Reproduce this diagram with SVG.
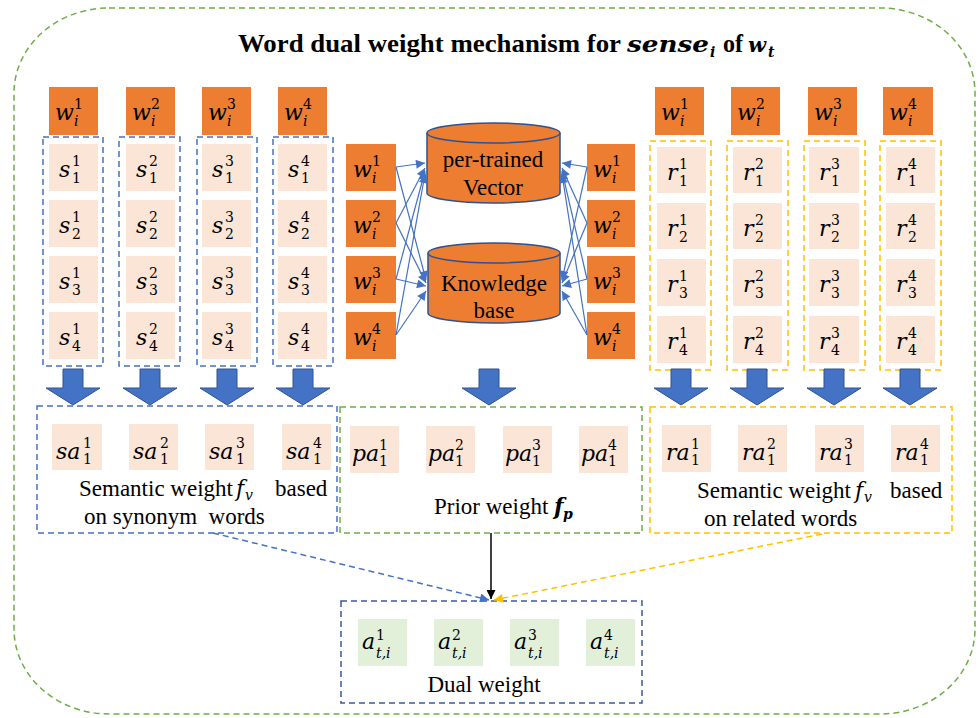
<svg xmlns="http://www.w3.org/2000/svg" xmlns:xlink="http://www.w3.org/1999/xlink" width="978" height="718" viewBox="0 0 978 718">
<style>
.or{fill:#ED7D31}
.pk{fill:#FBE5D6}
.gr{fill:#E2F0D9}
.m{font-family:"DejaVu Serif",serif;font-style:italic;font-size:22px;fill:#000}
.n{font-family:"DejaVu Serif",serif;font-size:14px;fill:#000}
.ni{font-family:"DejaVu Serif",serif;font-style:italic;font-size:14px;fill:#000}
.t{font-family:"Liberation Serif","Times New Roman",serif;font-size:23px;fill:#000}
.bd{fill:none;stroke:#4472C4;stroke-width:1.5;stroke-dasharray:6 4}
.yd{fill:none;stroke:#FFC000;stroke-width:1.5;stroke-dasharray:6 4}
.gd{fill:none;stroke:#70AD47;stroke-width:1.5;stroke-dasharray:6 4}
.dd{fill:none;stroke:#3C5A99;stroke-width:1.5;stroke-dasharray:6 4}
.cyl{fill:#ED7D31;stroke:#2F528F;stroke-width:1.5}
.ln{stroke:#4472C4;stroke-width:1.2;fill:none;marker-end:url(#ab)}
.ba{fill:#4472C4;stroke:#2F528F;stroke-width:1}
</style>
<defs>
<marker id="ab" viewBox="0 0 10 10" refX="10" refY="5" markerWidth="10" markerHeight="9" markerUnits="userSpaceOnUse" orient="auto"><path d="M0,0 L10,5 L0,10 z" fill="#4472C4"/></marker>
<marker id="ay" viewBox="0 0 10 10" refX="10" refY="5" markerWidth="10" markerHeight="9" markerUnits="userSpaceOnUse" orient="auto"><path d="M0,0 L10,5 L0,10 z" fill="#FFC000"/></marker>
<marker id="ak" viewBox="0 0 10 10" refX="10" refY="5" markerWidth="10" markerHeight="9" markerUnits="userSpaceOnUse" orient="auto"><path d="M0,0 L10,5 L0,10 z" fill="#000"/></marker>
<path id="barrow" class="ba" d="M-10,369 H10 V388 H27 L0,405 L-27,388 H-10 Z"/>
</defs>

<rect x="14" y="8" width="961" height="706" rx="95" ry="85" class="gd" stroke-width="1.3"/>

<g id="title">
<text x="238" y="52" font-family="Liberation Serif,serif" font-weight="bold" font-size="26" textLength="383" lengthAdjust="spacingAndGlyphs">Word dual weight mechanism for</text>
<text x="627" y="52" font-family="DejaVu Serif,serif" font-weight="bold" font-style="italic" font-size="22" textLength="82" lengthAdjust="spacingAndGlyphs">sense</text>
<text x="710" y="57" font-family="DejaVu Serif,serif" font-weight="bold" font-style="italic" font-size="14">i</text>
<text x="723" y="52" font-family="Liberation Serif,serif" font-weight="bold" font-size="26" textLength="20" lengthAdjust="spacingAndGlyphs">of</text>
<text x="748" y="52" font-family="DejaVu Serif,serif" font-weight="bold" font-style="italic" font-size="21">w</text>
<text x="768" y="57" font-family="DejaVu Serif,serif" font-weight="bold" font-style="italic" font-size="14">t</text>
</g>

<!-- left top w -->
<g id="lw1" transform="translate(49,87)"><rect class="or" width="49" height="48"/><text class="m" x="6" y="33">w</text><text class="n" x="25" y="22">1</text><text class="ni" x="25" y="39">i</text></g>
<g id="lw2" transform="translate(126,87)"><rect class="or" width="49" height="48"/><text class="m" x="6" y="33">w</text><text class="n" x="25" y="22">2</text><text class="ni" x="25" y="39">i</text></g>
<g id="lw3" transform="translate(202,87)"><rect class="or" width="49" height="48"/><text class="m" x="6" y="33">w</text><text class="n" x="25" y="22">3</text><text class="ni" x="25" y="39">i</text></g>
<g id="lw4" transform="translate(278,87)"><rect class="or" width="49" height="48"/><text class="m" x="6" y="33">w</text><text class="n" x="25" y="22">4</text><text class="ni" x="25" y="39">i</text></g>

<!-- left columns -->
<g id="scol1">
<rect class="bd" x="43" y="137" width="60" height="229"/>
<g transform="translate(49,144)"><rect class="pk" width="49" height="47"/><text class="m" x="10" y="33">s</text><text class="n" x="23" y="22">1</text><text class="n" x="23" y="39">1</text></g>
<g transform="translate(49,200)"><rect class="pk" width="49" height="47"/><text class="m" x="10" y="33">s</text><text class="n" x="23" y="22">1</text><text class="n" x="23" y="39">2</text></g>
<g transform="translate(49,256)"><rect class="pk" width="49" height="47"/><text class="m" x="10" y="33">s</text><text class="n" x="23" y="22">1</text><text class="n" x="23" y="39">3</text></g>
<g transform="translate(49,312)"><rect class="pk" width="49" height="47"/><text class="m" x="10" y="33">s</text><text class="n" x="23" y="22">1</text><text class="n" x="23" y="39">4</text></g>
</g>
<g id="scol2">
<rect class="bd" x="119" y="137" width="61" height="229"/>
<g transform="translate(126,144)"><rect class="pk" width="49" height="47"/><text class="m" x="10" y="33">s</text><text class="n" x="23" y="22">2</text><text class="n" x="23" y="39">1</text></g>
<g transform="translate(126,200)"><rect class="pk" width="49" height="47"/><text class="m" x="10" y="33">s</text><text class="n" x="23" y="22">2</text><text class="n" x="23" y="39">2</text></g>
<g transform="translate(126,256)"><rect class="pk" width="49" height="47"/><text class="m" x="10" y="33">s</text><text class="n" x="23" y="22">2</text><text class="n" x="23" y="39">3</text></g>
<g transform="translate(126,312)"><rect class="pk" width="49" height="47"/><text class="m" x="10" y="33">s</text><text class="n" x="23" y="22">2</text><text class="n" x="23" y="39">4</text></g>
</g>
<g id="scol3">
<rect class="bd" x="197" y="137" width="60" height="229"/>
<g transform="translate(202,144)"><rect class="pk" width="49" height="47"/><text class="m" x="10" y="33">s</text><text class="n" x="23" y="22">3</text><text class="n" x="23" y="39">1</text></g>
<g transform="translate(202,200)"><rect class="pk" width="49" height="47"/><text class="m" x="10" y="33">s</text><text class="n" x="23" y="22">3</text><text class="n" x="23" y="39">2</text></g>
<g transform="translate(202,256)"><rect class="pk" width="49" height="47"/><text class="m" x="10" y="33">s</text><text class="n" x="23" y="22">3</text><text class="n" x="23" y="39">3</text></g>
<g transform="translate(202,312)"><rect class="pk" width="49" height="47"/><text class="m" x="10" y="33">s</text><text class="n" x="23" y="22">3</text><text class="n" x="23" y="39">4</text></g>
</g>
<g id="scol4">
<rect class="bd" x="273" y="137" width="60" height="229"/>
<g transform="translate(278,144)"><rect class="pk" width="49" height="47"/><text class="m" x="10" y="33">s</text><text class="n" x="23" y="22">4</text><text class="n" x="23" y="39">1</text></g>
<g transform="translate(278,200)"><rect class="pk" width="49" height="47"/><text class="m" x="10" y="33">s</text><text class="n" x="23" y="22">4</text><text class="n" x="23" y="39">2</text></g>
<g transform="translate(278,256)"><rect class="pk" width="49" height="47"/><text class="m" x="10" y="33">s</text><text class="n" x="23" y="22">4</text><text class="n" x="23" y="39">3</text></g>
<g transform="translate(278,312)"><rect class="pk" width="49" height="47"/><text class="m" x="10" y="33">s</text><text class="n" x="23" y="22">4</text><text class="n" x="23" y="39">4</text></g>
</g>

<!-- middle w -->
<g id="mlw1" transform="translate(346,144)"><rect class="or" width="50" height="47"/><text class="m" x="7" y="33">w</text><text class="n" x="26" y="22">1</text><text class="ni" x="26" y="39">i</text></g>
<g id="mlw2" transform="translate(346,200)"><rect class="or" width="50" height="47"/><text class="m" x="7" y="33">w</text><text class="n" x="26" y="22">2</text><text class="ni" x="26" y="39">i</text></g>
<g id="mlw3" transform="translate(346,256)"><rect class="or" width="50" height="47"/><text class="m" x="7" y="33">w</text><text class="n" x="26" y="22">3</text><text class="ni" x="26" y="39">i</text></g>
<g id="mlw4" transform="translate(346,312)"><rect class="or" width="50" height="47"/><text class="m" x="7" y="33">w</text><text class="n" x="26" y="22">4</text><text class="ni" x="26" y="39">i</text></g>
<g id="mrw1" transform="translate(587,144)"><rect class="or" width="48" height="47"/><text class="m" x="6" y="33">w</text><text class="n" x="25" y="22">1</text><text class="ni" x="25" y="39">i</text></g>
<g id="mrw2" transform="translate(587,200)"><rect class="or" width="48" height="47"/><text class="m" x="6" y="33">w</text><text class="n" x="25" y="22">2</text><text class="ni" x="25" y="39">i</text></g>
<g id="mrw3" transform="translate(587,256)"><rect class="or" width="48" height="47"/><text class="m" x="6" y="33">w</text><text class="n" x="25" y="22">3</text><text class="ni" x="25" y="39">i</text></g>
<g id="mrw4" transform="translate(587,312)"><rect class="or" width="48" height="47"/><text class="m" x="6" y="33">w</text><text class="n" x="25" y="22">4</text><text class="ni" x="25" y="39">i</text></g>

<!-- cylinders -->
<g id="vector">
<path class="cyl" d="M427,133 A66.5,10 0 0 1 560,133 V193 A66.5,10 0 0 1 427,193 Z"/>
<path class="cyl" fill="none" d="M427,133 A66.5,10 0 0 0 560,133"/>
<text class="t" x="493" y="167" text-anchor="middle">per-trained</text>
<text class="t" x="493" y="195" text-anchor="middle">Vector</text>
</g>
<g id="kb">
<path class="cyl" d="M428,253 A66,10 0 0 1 560,253 V313 A66,10 0 0 1 428,313 Z"/>
<path class="cyl" fill="none" d="M428,253 A66,10 0 0 0 560,253"/>
<text class="t" x="494" y="291" text-anchor="middle">Knowledge</text>
<text class="t" x="494" y="318" text-anchor="middle">base</text>
</g>

<!-- right top w -->
<g id="rw1" transform="translate(655,87)"><rect class="or" width="49" height="48"/><text class="m" x="6" y="33">w</text><text class="n" x="25" y="22">1</text><text class="ni" x="25" y="39">i</text></g>
<g id="rw2" transform="translate(731,87)"><rect class="or" width="49" height="48"/><text class="m" x="6" y="33">w</text><text class="n" x="25" y="22">2</text><text class="ni" x="25" y="39">i</text></g>
<g id="rw3" transform="translate(808,87)"><rect class="or" width="49" height="48"/><text class="m" x="6" y="33">w</text><text class="n" x="25" y="22">3</text><text class="ni" x="25" y="39">i</text></g>
<g id="rw4" transform="translate(883,87)"><rect class="or" width="50" height="48"/><text class="m" x="6" y="33">w</text><text class="n" x="25" y="22">4</text><text class="ni" x="25" y="39">i</text></g>

<g id="rcol1">
<rect class="yd" x="650" y="141" width="61" height="229"/>
<g transform="translate(657,147)"><rect class="pk" width="49" height="46"/><text class="m" x="10" y="33">r</text><text class="n" x="22" y="22">1</text><text class="n" x="22" y="39">1</text></g>
<g transform="translate(657,203)"><rect class="pk" width="49" height="46"/><text class="m" x="10" y="33">r</text><text class="n" x="22" y="22">1</text><text class="n" x="22" y="39">2</text></g>
<g transform="translate(657,259)"><rect class="pk" width="49" height="47"/><text class="m" x="10" y="33">r</text><text class="n" x="22" y="22">1</text><text class="n" x="22" y="39">3</text></g>
<g transform="translate(657,316)"><rect class="pk" width="49" height="47"/><text class="m" x="10" y="33">r</text><text class="n" x="22" y="22">1</text><text class="n" x="22" y="39">4</text></g>
</g>
<g id="rcol2">
<rect class="yd" x="727" y="141" width="61" height="229"/>
<g transform="translate(733,147)"><rect class="pk" width="49" height="46"/><text class="m" x="10" y="33">r</text><text class="n" x="22" y="22">2</text><text class="n" x="22" y="39">1</text></g>
<g transform="translate(733,203)"><rect class="pk" width="49" height="46"/><text class="m" x="10" y="33">r</text><text class="n" x="22" y="22">2</text><text class="n" x="22" y="39">2</text></g>
<g transform="translate(733,259)"><rect class="pk" width="49" height="47"/><text class="m" x="10" y="33">r</text><text class="n" x="22" y="22">2</text><text class="n" x="22" y="39">3</text></g>
<g transform="translate(733,316)"><rect class="pk" width="49" height="47"/><text class="m" x="10" y="33">r</text><text class="n" x="22" y="22">2</text><text class="n" x="22" y="39">4</text></g>
</g>
<g id="rcol3">
<rect class="yd" x="804" y="141" width="61" height="229"/>
<g transform="translate(809,147)"><rect class="pk" width="50" height="46"/><text class="m" x="10" y="33">r</text><text class="n" x="22" y="22">3</text><text class="n" x="22" y="39">1</text></g>
<g transform="translate(809,203)"><rect class="pk" width="50" height="46"/><text class="m" x="10" y="33">r</text><text class="n" x="22" y="22">3</text><text class="n" x="22" y="39">2</text></g>
<g transform="translate(809,259)"><rect class="pk" width="50" height="47"/><text class="m" x="10" y="33">r</text><text class="n" x="22" y="22">3</text><text class="n" x="22" y="39">3</text></g>
<g transform="translate(809,316)"><rect class="pk" width="50" height="47"/><text class="m" x="10" y="33">r</text><text class="n" x="22" y="22">3</text><text class="n" x="22" y="39">4</text></g>
</g>
<g id="rcol4">
<rect class="yd" x="880" y="141" width="61" height="229"/>
<g transform="translate(886,147)"><rect class="pk" width="49" height="46"/><text class="m" x="10" y="33">r</text><text class="n" x="22" y="22">4</text><text class="n" x="22" y="39">1</text></g>
<g transform="translate(886,203)"><rect class="pk" width="49" height="46"/><text class="m" x="10" y="33">r</text><text class="n" x="22" y="22">4</text><text class="n" x="22" y="39">2</text></g>
<g transform="translate(886,259)"><rect class="pk" width="49" height="47"/><text class="m" x="10" y="33">r</text><text class="n" x="22" y="22">4</text><text class="n" x="22" y="39">3</text></g>
<g transform="translate(886,316)"><rect class="pk" width="49" height="47"/><text class="m" x="10" y="33">r</text><text class="n" x="22" y="22">4</text><text class="n" x="22" y="39">4</text></g>
</g>

<!-- block arrows -->
<g id="blockarrows">
<use xlink:href="#barrow" x="73"/><use xlink:href="#barrow" x="150"/><use xlink:href="#barrow" x="227"/><use xlink:href="#barrow" x="303"/>
<use xlink:href="#barrow" x="489"/>
<use xlink:href="#barrow" x="681"/><use xlink:href="#barrow" x="757"/><use xlink:href="#barrow" x="834"/><use xlink:href="#barrow" x="910"/>
</g>

<!-- synonym weights -->
<g id="syn">
<rect class="bd" x="37" y="406" width="300" height="127"/>
<g transform="translate(52,424)"><rect class="pk" width="50" height="46"/><text class="m" x="4" y="35">sa</text><text class="n" x="31" y="24">1</text><text class="n" x="31" y="40">1</text></g>
<g transform="translate(129,424)"><rect class="pk" width="49" height="46"/><text class="m" x="4" y="35">sa</text><text class="n" x="31" y="24">2</text><text class="n" x="31" y="40">1</text></g>
<g transform="translate(205,424)"><rect class="pk" width="49" height="46"/><text class="m" x="4" y="35">sa</text><text class="n" x="31" y="24">3</text><text class="n" x="31" y="40">1</text></g>
<g transform="translate(282,424)"><rect class="pk" width="49" height="46"/><text class="m" x="4" y="35">sa</text><text class="n" x="31" y="24">4</text><text class="n" x="31" y="40">1</text></g>
<text class="t" x="79" y="496">Semantic weight</text>
<text class="m" x="236" y="496">f</text><text class="ni" x="245" y="500">v</text>
<text class="t" x="275" y="496">based</text>
<text class="t" x="84" y="524">on synonym&#160; words</text>
</g>

<!-- prior weights -->
<g id="prior">
<rect class="gd" x="340" y="407" width="302" height="126"/>
<g transform="translate(350,426)"><rect class="pk" width="49" height="47"/><text class="m" x="2" y="35">pa</text><text class="n" x="29" y="24">1</text><text class="n" x="29" y="40">1</text></g>
<g transform="translate(426,426)"><rect class="pk" width="49" height="47"/><text class="m" x="2" y="35">pa</text><text class="n" x="29" y="24">2</text><text class="n" x="29" y="40">1</text></g>
<g transform="translate(503,426)"><rect class="pk" width="49" height="47"/><text class="m" x="2" y="35">pa</text><text class="n" x="29" y="24">3</text><text class="n" x="29" y="40">1</text></g>
<g transform="translate(579,426)"><rect class="pk" width="49" height="47"/><text class="m" x="2" y="35">pa</text><text class="n" x="29" y="24">4</text><text class="n" x="29" y="40">1</text></g>
<text class="t" x="434" y="514">Prior weight</text>
<text class="m" x="554" y="514" font-weight="bold">f</text><text class="ni" x="563" y="519" font-weight="bold">p</text>
</g>

<!-- related weights -->
<g id="rel">
<rect class="yd" x="650" y="407" width="302" height="126"/>
<g transform="translate(662,425)"><rect class="pk" width="49" height="47"/><text class="m" x="4" y="35">ra</text><text class="n" x="29" y="24">1</text><text class="n" x="29" y="40">1</text></g>
<g transform="translate(738,425)"><rect class="pk" width="49" height="47"/><text class="m" x="4" y="35">ra</text><text class="n" x="29" y="24">2</text><text class="n" x="29" y="40">1</text></g>
<g transform="translate(815,425)"><rect class="pk" width="49" height="47"/><text class="m" x="4" y="35">ra</text><text class="n" x="29" y="24">3</text><text class="n" x="29" y="40">1</text></g>
<g transform="translate(891,425)"><rect class="pk" width="49" height="47"/><text class="m" x="4" y="35">ra</text><text class="n" x="29" y="24">4</text><text class="n" x="29" y="40">1</text></g>
<text class="t" x="697" y="498">Semantic weight</text>
<text class="m" x="855" y="498">f</text><text class="ni" x="864" y="502">v</text>
<text class="t" x="890" y="498">based</text>
<text class="t" x="704" y="526">on related words</text>
</g>

<!-- dual -->
<g id="dual">
<rect class="dd" x="341" y="601" width="301" height="102"/>
<g transform="translate(358,619)"><rect class="gr" width="49" height="47"/><text class="m" x="4" y="30">a</text><text class="n" x="18" y="21">1</text><text class="ni" x="18" y="39">t,i</text></g>
<g transform="translate(434,619)"><rect class="gr" width="49" height="47"/><text class="m" x="4" y="30">a</text><text class="n" x="18" y="21">2</text><text class="ni" x="18" y="39">t,i</text></g>
<g transform="translate(510,619)"><rect class="gr" width="49" height="47"/><text class="m" x="4" y="30">a</text><text class="n" x="18" y="21">3</text><text class="ni" x="18" y="39">t,i</text></g>
<g transform="translate(586,619)"><rect class="gr" width="49" height="47"/><text class="m" x="4" y="30">a</text><text class="n" x="18" y="21">4</text><text class="ni" x="18" y="39">t,i</text></g>
<text class="t" x="484" y="692" text-anchor="middle">Dual weight</text>
</g>

<!-- connectors -->
<g id="connectors">
<line class="ln" x1="396" y1="167" x2="425" y2="163"/>
<line class="ln" x1="396" y1="223" x2="425" y2="168"/>
<line class="ln" x1="396" y1="279" x2="425" y2="171"/>
<line class="ln" x1="396" y1="335" x2="425" y2="174"/>
<line class="ln" x1="396" y1="167" x2="426" y2="280"/>
<line class="ln" x1="396" y1="223" x2="426" y2="283"/>
<line class="ln" x1="396" y1="279" x2="426" y2="286"/>
<line class="ln" x1="396" y1="335" x2="426" y2="291"/>
<line class="ln" x1="587" y1="167" x2="562" y2="163"/>
<line class="ln" x1="587" y1="223" x2="562" y2="168"/>
<line class="ln" x1="587" y1="279" x2="562" y2="171"/>
<line class="ln" x1="587" y1="335" x2="562" y2="174"/>
<line class="ln" x1="587" y1="167" x2="562" y2="280"/>
<line class="ln" x1="587" y1="223" x2="562" y2="283"/>
<line class="ln" x1="587" y1="279" x2="562" y2="286"/>
<line class="ln" x1="587" y1="335" x2="562" y2="291"/>
<line x1="213" y1="533" x2="489" y2="600" stroke="#4472C4" stroke-width="1.5" stroke-dasharray="6 4" marker-end="url(#ab)"/>
<line x1="822" y1="534" x2="494" y2="600" stroke="#FFC000" stroke-width="1.5" stroke-dasharray="6 4" marker-end="url(#ay)"/>
<line x1="491" y1="533" x2="491" y2="599" stroke="#000" stroke-width="1.5" marker-end="url(#ak)"/>
</g>
</svg>
